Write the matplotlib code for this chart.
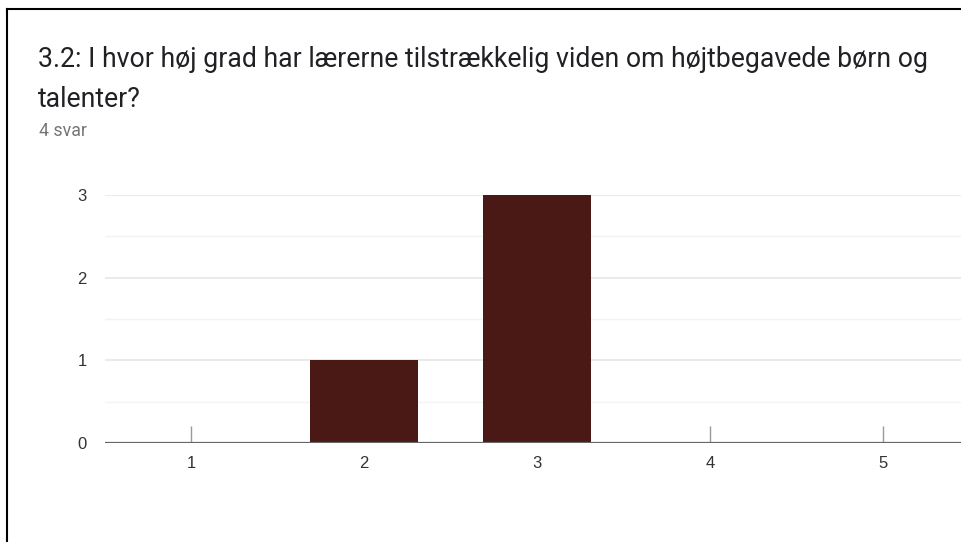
import matplotlib.pyplot as plt
from matplotlib.lines import Line2D

## Data
categories = [1, 2, 3, 4, 5]
counts = [0, 1, 3, 0, 0]
title_lines = ["3.2: I hvor høj grad har lærerne tilstrækkelig viden om højtbegavede børn og",
               "talenter?"]
subtitle = "4 svar"
y_ticks = [0, 1, 2, 3]
y_minor = [0.5, 1.5, 2.5]

W, H = 962, 542
bar_color = "#4a1815"

fig = plt.figure(figsize=(W / 100, H / 100), dpi=100)

## Frame (only left and top edges visible)
fig.add_artist(Line2D([7 / W, 7 / W], [0, 1 - 9 / H], color="black", lw=1.5))
fig.add_artist(Line2D([7 / W, 1], [1 - 9 / H, 1 - 9 / H], color="black", lw=1.5))

## Title and subtitle
fig.text(38 / W, 1 - 67 / H, title_lines[0], fontsize=19.2, family="Roboto",
         color="#202124", va="baseline")
fig.text(38 / W, 1 - 107 / H, title_lines[1], fontsize=19.2, family="Roboto",
         color="#202124", va="baseline")
fig.text(39 / W, 1 - 136 / H, subtitle, fontsize=12.8, family="Roboto",
         color="#757575", va="baseline")

## Axes extend past right edge, as in the cropped screenshot
ax = fig.add_axes([105 / W, 99 / H, 864 / W, 248 / H])
ax.bar(categories, counts, width=0.623, color=bar_color, zorder=3)

# little markers for empty categories
for c, v in zip(categories, counts):
    if v == 0:
        ax.vlines(c, 0, 0.2, color="#999999", lw=1, zorder=3)

for y in y_ticks[1:]:
    ax.axhline(y, color="#e6e6e6", lw=1.2, zorder=1)
for y in y_minor:
    ax.axhline(y, color="#f3f3f3", lw=1, zorder=1)
ax.axhline(0, color="#666666", lw=1.6, zorder=4)

ax.set_xlim(0.5, 5.5)
ax.set_ylim(0, 3)
ax.set_xticks(categories)
ax.set_yticks(y_ticks)
for s in ax.spines.values():
    s.set_visible(False)
ax.tick_params(length=0, labelsize=12, labelcolor="#333333")
ax.tick_params(axis="x", pad=9)
ax.tick_params(axis="y", pad=13)
for lab in ax.get_xticklabels() + ax.get_yticklabels():
    lab.set_family("Liberation Sans")

fig.savefig("out.png", dpi=100)
